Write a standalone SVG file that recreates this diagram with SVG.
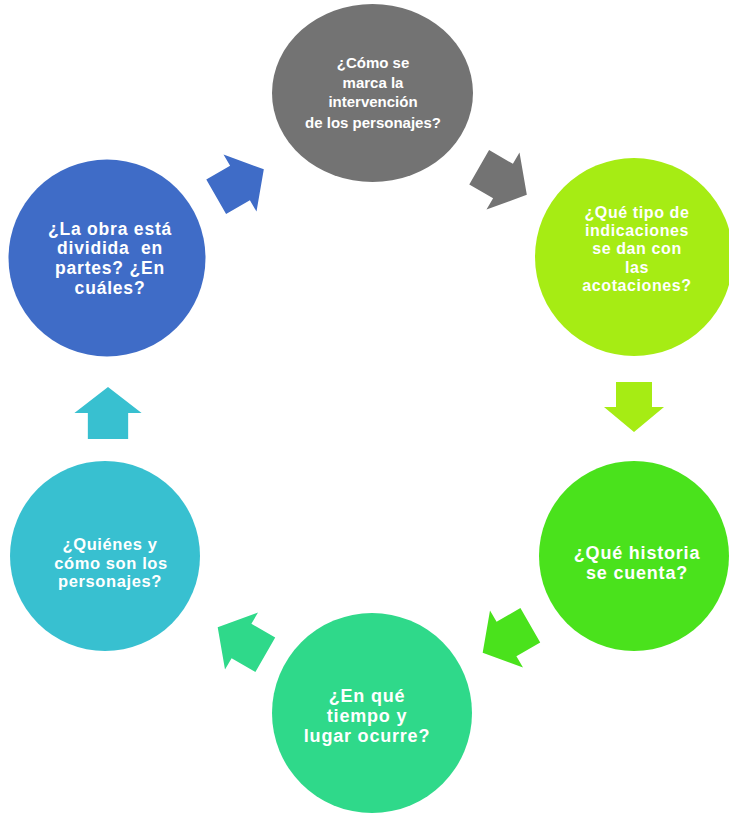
<svg xmlns="http://www.w3.org/2000/svg" width="729" height="815" viewBox="0 0 729 815">
<style>
  .t { font-family: "Liberation Sans", Arial, sans-serif; font-weight: bold; fill: #ffffff; text-anchor: middle; }
</style>
<defs>
  <path id="arr" d="M-25,-18 H0 V-30 L25,0 L0,30 V18 H-25 Z"/>
</defs>
<rect width="729" height="815" fill="#ffffff"/>

<g id="connectors">
  <use href="#arr" fill="#3f6cc7" transform="translate(240,183) rotate(-30) scale(1.1)"/>
  <use href="#arr" fill="#737373" transform="translate(503,181) rotate(30) scale(1.1)"/>
  <use href="#arr" fill="#a6ec14" transform="translate(634,407) rotate(90)"/>
  <use href="#arr" fill="#4ae21c" transform="translate(506.5,639) rotate(150) scale(1.1)"/>
  <use href="#arr" fill="#2fd98a" transform="translate(241.5,641) rotate(-150) scale(1.1)"/>
  <use href="#arr" fill="#38c0d0" transform="translate(108,413) rotate(-90) scale(1.04,1.12)"/>
</g>

<g id="node-gray">
  <ellipse cx="372.5" cy="93" rx="100.5" ry="89" fill="#737373"/>
  <text class="t" font-size="15" x="373" y="68">¿Cómo se</text>
  <text class="t" font-size="15" x="373" y="88">marca la</text>
  <text class="t" font-size="15" x="373" y="107">intervención</text>
  <text class="t" font-size="15" x="373" y="128">de los personajes?</text>
</g>

<g id="node-lime">
  <circle cx="634" cy="257" r="99" fill="#a6ec14"/>
  <text class="t" font-size="16" letter-spacing="0.6" x="637" y="218">¿Qué tipo de</text>
  <text class="t" font-size="16" letter-spacing="0.6" x="637" y="236">indicaciones</text>
  <text class="t" font-size="16" letter-spacing="0.6" x="637" y="254">se dan con</text>
  <text class="t" font-size="16" letter-spacing="0.6" x="637" y="273">las</text>
  <text class="t" font-size="16" letter-spacing="0.6" x="637" y="291">acotaciones?</text>
</g>

<g id="node-green">
  <circle cx="634" cy="556" r="95" fill="#4ae21c"/>
  <text class="t" font-size="18" letter-spacing="0.8" x="637" y="559">¿Qué historia</text>
  <text class="t" font-size="18" letter-spacing="0.8" x="637" y="579">se cuenta?</text>
</g>

<g id="node-mint">
  <circle cx="372" cy="713" r="100" fill="#2fd98a"/>
  <text class="t" font-size="18" letter-spacing="0.8" x="367" y="702">¿En qué</text>
  <text class="t" font-size="18" letter-spacing="0.8" x="367" y="722">tiempo y</text>
  <text class="t" font-size="18" letter-spacing="0.8" x="367" y="742">lugar ocurre?</text>
</g>

<g id="node-teal">
  <circle cx="105" cy="556" r="95" fill="#38c0d0"/>
  <text class="t" font-size="16.5" letter-spacing="0.6" x="110" y="549.5">¿Quiénes y</text>
  <text class="t" font-size="16.5" letter-spacing="0.6" x="111" y="568.5">cómo son los</text>
  <text class="t" font-size="16.5" letter-spacing="0.6" x="110" y="587">personajes?</text>
</g>

<g id="node-blue">
  <circle cx="107" cy="258" r="98.5" fill="#3f6cc7"/>
  <text class="t" font-size="17.5" letter-spacing="0.8" x="110" y="235">¿La obra está</text>
  <text class="t" font-size="17.5" letter-spacing="0.8" x="110" y="254">dividida&#160; en</text>
  <text class="t" font-size="17.5" letter-spacing="0.8" x="110" y="274">partes? ¿En</text>
  <text class="t" font-size="17.5" letter-spacing="0.8" x="110" y="294">cuáles?</text>
</g>
</svg>
